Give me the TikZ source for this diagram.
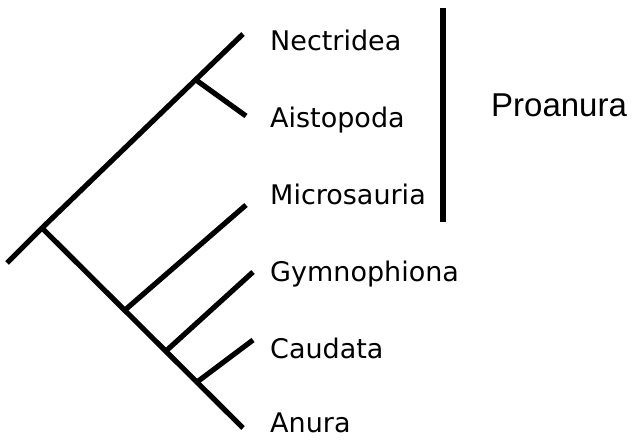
\documentclass[tikz,border=0pt]{standalone}
\usepackage{fontspec}
\setmainfont{DejaVu Sans}
\newfontfamily\groupfont{Liberation Sans}
\begin{document}
\begin{tikzpicture}[x=1pt,y=-1pt,
  branch/.style={line width=5.2pt},
  taxon/.style={anchor=base west, inner sep=0pt, font=\fontsize{27}{31}\selectfont},
  group/.style={anchor=base west, inner sep=0pt, font=\groupfont\fontsize{33}{38}\selectfont}]
\useasboundingbox (0,0) rectangle (632,443);
% tree points
\coordinate (stem) at (7,263);
\coordinate (r) at (42,228);
\coordinate (tN) at (243,34);
\coordinate (nA) at (196,80);
\coordinate (tA) at (246,116);
\coordinate (nM) at (125,310);
\coordinate (tM) at (246,205);
\coordinate (nG) at (166,351);
\coordinate (tG) at (253,272);
\coordinate (nC) at (197,382);
\coordinate (tC) at (253,340);
\coordinate (tAn) at (243,428);
\coordinate (barTop) at (443,8);
\coordinate (barBot) at (443,222);
% branches
\draw[branch] (stem) -- (r) -- (tN);
\draw[branch] (r) -- (tAn);
\draw[branch] (nA) -- (tA);
\draw[branch] (nM) -- (tM);
\draw[branch] (nG) -- (tG);
\draw[branch] (nC) -- (tC);
\draw[branch, line width=5.6pt] (barTop) -- (barBot);
% labels
\node[taxon] (nec) at (270,51) {Nectridea};
\node[taxon] (ais) at (270,128) {Aistopoda};
\node[taxon] (mic) at (270,205) {Microsauria};
\node[taxon] (gym) at (270,282) {Gymnophiona};
\node[taxon] (cau) at (270,359) {Caudata};
\node[taxon] (anu) at (270,433) {Anura};
\node[group] (pro) at (491,117) {Proanura};
\end{tikzpicture}
\end{document}
